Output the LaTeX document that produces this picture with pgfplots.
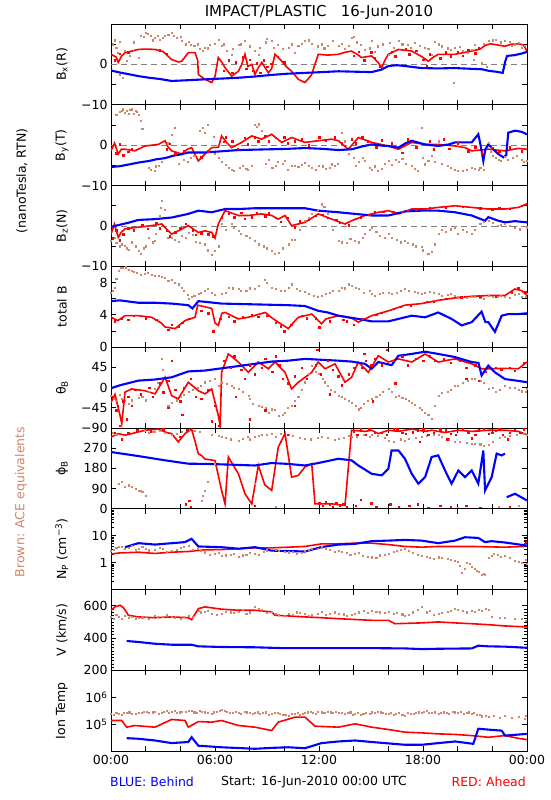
\documentclass[border=0pt]{standalone}
\usepackage{fontspec}
\setmainfont{DejaVu Sans}
\usepackage{pgfplots}
\pgfplotsset{compat=1.18}
\definecolor{bl}{RGB}{0,0,255}
\definecolor{rd}{RGB}{255,0,0}
\definecolor{br}{RGB}{205,135,105}
\definecolor{gr}{RGB}{128,128,128}
\newcommand\tk{\fontsize{12.5}{13}\selectfont}
\newcommand\lb{\fontsize{12.5}{13}\selectfont}
\pgfplotsset{
 panel/.style={width=416pt,height=80.8pt,scale only axis,
  xmin=0,xmax=24,xtick={0,2,...,24},xticklabels={},
  tick align=inside,major tick length=5pt,minor tick length=3pt,
  axis line style={line width=0.8pt},
  every tick/.style={black,line width=0.8pt},
  tick label style={font=\tk},
  xtick pos=both,ytick pos=both,
  xticklabel pos=lower,yticklabel pos=left,
  every axis y label/.style={at={(axis description cs:-0.118,0.5)},rotate=90,anchor=center,font=\lb},
  unbounded coords=jump,
  anchor=north west,
  /pgf/number format/assume math mode=true},
 bline/.style={color=bl,line width=2.1pt,no markers},
 rline/.style={color=rd,line width=1.6pt,no markers},
 bpts/.style={only marks,mark=square*,mark size=0.55pt,color=br},
 rpts/.style={only marks,mark=square*,mark size=0.7pt,color=rd},
 zline/.style={color=gr,line width=0.8pt,dash pattern=on 6pt off 4pt},
}
\begin{document}
\begin{tikzpicture}
\useasboundingbox (0,0) rectangle (550pt,-800pt);
% ---------- Bx
\begin{axis}[panel,at={(111pt,-24pt)},ymin=-10,ymax=10,ytick={-10,-5,0,5},yticklabels={−10,,0,},ylabel={B\textsubscript{x}(R)}]
\addplot[zline] coordinates {(0,0)(24,0)};
\addplot[bpts] coordinates {(0.1,5.0)(0.3,4.2)(0.5,5.6)(0.8,3.5)(1.1,2.2)(1.58,1.7)(1.9,6.8)(2.0,7.9)(2.3,7.0)(2.54,6.5)(2.8,6.2)(3.1,7.2)(3.5,7.9)(3.8,6.6)(4.1,5.8)(4.46,5.6)(4.8,4.6)(5.1,3.9)(5.42,4.1)(5.7,4.8)(6.0,5.2)(6.38,4.6)(6.7,3.5)(6.96,2.5)(7.35,4.9)(7.7,5.8)(8.31,3.3)(8.6,4.1)(9.27,5.8)(9.6,4.8)(10.23,4.1)(10.6,3.0)(11.19,5.8)(11.6,5.1)(12.15,5.0)(12.5,4.6)(13.12,4.6)(13.5,3.8)(13.88,6.5)(14.2,5.5)(14.65,3.7)(15.04,5.8)(15.4,4.5)(16.0,2.5)(16.3,4.1)(16.58,5.8)(17.1,4.8)(17.54,5.4)(18.1,4.2)(18.5,2.5)(18.88,5.0)(19.4,4.0)(19.75,-4.5)(19.85,4.1)(20.3,3.5)(20.81,3.7)(20.9,1.2)(21.2,4.2)(21.4,0.3)(21.7,-0.6)(21.77,5.8)(22.2,6.2)(22.73,5.8)(23.1,4.6)(23.5,5.4)(23.88,4.7)(0.5,-2.5)(0.7,-3.3)};
\addplot[bpts] coordinates {(0.2,6.0)(0.4,3.0)(0.9,1.0)(1.3,5.5)(1.7,7.2)(2.1,7.5)(2.4,6.0)(2.7,7.0)(3.0,6.5)(3.3,7.4)(3.6,7.0)(4.0,6.8)(4.3,5.0)(4.6,4.8)(5.0,5.0)(5.3,3.5)(5.6,4.0)(6.2,6.2)(6.5,5.0)(7.0,3.8)(7.5,5.0)(8.0,4.5)(8.5,2.5)(8.9,5.5)(9.0,6.3)(9.4,4.2)(9.9,3.8)(10.4,5.0)(10.8,4.6)(11.0,5.2)(11.4,6.0)(11.9,4.5)(12.3,4.0)(12.8,5.8)(13.3,5.2)(13.7,4.6)(14.0,6.8)(14.4,4.8)(14.9,4.0)(15.2,3.2)(15.7,5.0)(16.1,5.4)(16.8,5.0)(17.3,4.2)(17.8,4.6)(18.3,3.8)(18.7,5.6)(19.1,4.5)(19.6,3.6)(20.1,4.4)(20.6,3.0)(21.0,4.8)(21.5,5.2)(22.0,6.0)(22.5,5.5)(23.0,5.6)(23.3,5.0)(23.7,4.2)};
\addplot[rpts] coordinates {(6.5,-1.5)(6.8,1.0)(7.0,-2.0)(7.2,0.5)(7.6,1.8)(7.8,-1.0)(8.0,1.2)(8.2,-1.5)(8.4,0.3)(8.6,-2.0)(8.8,1.0)(9.0,-0.5)(9.2,0.2)(9.6,1.9)(10.0,0.5)(14.0,2.2)(14.3,3.2)(14.6,1.0)(15.0,3.0)(15.2,1.5)(15.5,-0.5)(16.2,3.2)(16.4,2.0)(17.0,3.8)(17.2,2.5)(17.6,3.4)(18.0,1.2)(18.2,-0.3)(18.4,2.5)(19.0,1.5)(19.3,3.0)(19.6,2.0)(20.0,3.2)(20.3,2.2)(20.6,3.6)(21.0,2.8)(21.2,4.0)(0.2,1.0)(0.5,2.6)(1.0,3.0)(2.8,3.5)(3.2,2.6)};
\addplot[rline] coordinates {(0,2.5)(0.3,1.8)(0.42,0.5)(0.6,2.0)(0.81,2.9)(1.2,3.3)(1.58,3.7)(2.0,3.8)(2.54,3.7)(3.0,3.2)(3.3,2.0)(3.5,1.2)(3.9,0.6)(4.08,0.8)(4.3,2.0)(4.46,2.9)(4.85,2.9)(5.0,1.0)(5.04,-2.5)(5.42,-3.7)(5.81,-4.5)(6.0,-3.0)(6.19,1.7)(6.4,0.5)(6.58,-0.8)(6.96,-2.9)(7.35,-1.7)(7.54,0.0)(7.73,2.5)(7.9,-0.5)(8.12,0.0)(8.3,-2.5)(8.5,-0.8)(8.7,0.5)(9.08,-2.1)(9.27,-1.0)(9.46,2.5)(9.7,1.5)(9.85,0.8)(10.1,-0.5)(10.42,-1.7)(10.81,-3.7)(11.19,-4.5)(11.58,-2.5)(11.8,0.5)(11.96,2.5)(12.5,2.3)(13.12,2.5)(13.5,3.0)(13.88,3.3)(14.2,2.5)(14.46,1.7)(15.04,2.1)(15.4,0.5)(15.62,-0.8)(15.8,1.0)(16.0,2.5)(16.58,3.7)(17.35,3.3)(17.9,2.0)(18.31,0.8)(18.6,1.8)(18.88,2.5)(19.85,2.5)(20.81,3.3)(21.3,3.8)(21.58,4.7)(21.9,5.1)(22.73,4.5)(23.1,5.0)(23.5,5.1)(23.8,4.8)(24,3.3)};
\addplot[bline] coordinates {(0,-1.5)(0.5,-2.0)(1.0,-2.4)(1.58,-2.9)(2.2,-3.3)(2.8,-3.6)(3.5,-4.1)(4.0,-4.0)(4.5,-3.9)(5.42,-3.7)(6.4,-3.5)(7.35,-3.3)(8.3,-3.0)(9.27,-2.6)(10.2,-2.3)(11.19,-2.1)(12.2,-1.9)(13.12,-1.7)(14.0,-1.8)(15.04,-1.9)(15.6,-1.3)(16.0,-0.4)(16.5,-0.2)(16.96,-0.4)(17.9,-0.9)(18.88,-1.0)(19.8,-0.9)(20.81,-1.1)(21.4,-1.2)(21.8,-1.6)(22.2,-1.8)(22.6,-2.1)(22.75,0.8)(22.85,2.1)(23.3,2.3)(23.7,2.7)(24,3.1)};
\end{axis}
% ---------- By
\begin{axis}[panel,at={(111pt,-104.8pt)},ymin=-10,ymax=10,ytick={-10,-5,0,5},yticklabels={−10,,0,},ylabel={B\textsubscript{y}(T)}]
\addplot[zline] coordinates {(0,0)(24,0)};
\addplot[bpts] coordinates {(0.3,7.6)(0.5,8.2)(0.7,8.9)(0.9,8.5)(1.0,7.8)(1.1,8.7)(1.2,8.9)(1.3,7.9)(1.5,8.2)(1.7,6.0)(1.8,4.0)(2.15,-5.6)(2.5,-6.3)(2.73,-5.0)(3.2,-1.0)(3.5,2.7)(3.7,4.4)(4.2,-3.5)(4.6,-3.0)(5.1,3.6)(5.3,4.4)(5.6,5.0)(5.9,2.0)(6.2,-3.0)(6.6,-4.8)(6.96,-6.0)(7.4,-5.6)(7.8,-5.8)(8.1,-5.0)(8.3,5.0)(8.5,5.2)(8.7,3.5)(9.1,-3.5)(9.3,-5.6)(9.6,-4.0)(10.0,-3.9)(10.4,-5.0)(10.8,-5.4)(11.19,-4.3)(11.6,-5.6)(11.96,-5.0)(12.4,-5.8)(12.73,-4.7)(13.1,-4.5)(13.3,3.0)(13.5,1.0)(14.0,-3.0)(14.3,-4.0)(14.65,-3.9)(15.04,-6.0)(15.4,-6.2)(15.8,-4.5)(16.0,-3.9)(16.4,-3.5)(16.8,-3.3)(17.35,-5.0)(17.7,-6.3)(17.9,4.4)(18.12,-4.7)(18.5,-2.5)(18.88,1.0)(19.4,-5.0)(19.85,-6.0)(20.3,-6.3)(20.81,-5.6)(21.2,-6.0)(21.5,-6.0)(21.77,0.6)(22.0,-2.5)(22.35,-3.5)(22.73,-2.8)(23.2,-3.0)(23.69,-3.5)(24,-3.8)};
\addplot[bpts] coordinates {(0.6,8.5)(0.8,8.0)(1.4,8.5)(1.6,7.5)(2.3,-6.0)(2.6,-5.2)(2.9,-4.0)(3.3,0.5)(3.9,-4.5)(4.4,-4.0)(4.8,-2.5)(5.4,3.0)(6.0,-2.0)(6.4,-4.0)(6.8,-5.5)(7.1,-6.2)(7.6,-5.0)(7.9,-6.0)(8.4,4.5)(8.9,-4.5)(9.5,-5.0)(9.9,-4.5)(10.2,-6.0)(10.6,-5.0)(11.0,-4.8)(11.4,-5.0)(11.8,-6.0)(12.2,-5.2)(12.6,-5.6)(12.9,-5.0)(13.7,-2.0)(14.1,-5.0)(14.5,-3.2)(14.9,-5.5)(15.2,-5.2)(15.6,-5.8)(16.2,-4.8)(16.6,-4.0)(17.0,-4.5)(17.5,-5.8)(18.0,-3.0)(18.3,-3.8)(18.7,-4.0)(19.1,-4.5)(19.6,-5.5)(20.0,-6.2)(20.5,-6.0)(21.0,-5.8)(21.3,-5.5)(21.9,-1.5)(22.2,-3.0)(22.5,-3.8)(22.9,-3.5)(23.4,-2.5)(23.8,-4.0)};
\addplot[rpts] coordinates {(0.3,-2.0)(0.5,0.2)(0.7,-2.5)(1.0,-1.6)(1.2,-0.8)(3.2,-1.0)(3.4,0.4)(3.7,-2.0)(4.2,-1.5)(5.2,-3.0)(5.6,-1.5)(6.5,0.8)(6.6,2.0)(7.0,1.0)(7.3,-0.8)(7.7,1.8)(7.9,0.2)(8.3,2.0)(8.5,1.0)(8.9,2.4)(9.1,1.0)(9.5,1.8)(10.0,2.0)(10.2,0.5)(10.6,1.0)(11.0,1.5)(11.4,0.0)(12.0,2.0)(12.4,1.2)(12.9,2.0)(13.3,0.5)(13.9,1.5)(14.1,0.5)(14.5,2.0)(14.8,1.0)(15.3,-0.5)(15.6,1.2)(16.2,0.5)(16.8,-1.8)(17.1,1.5)(17.6,-0.5)(18.4,1.0)(18.6,-1.0)(19.2,1.5)(19.5,-0.8)(20.0,0.5)(20.6,-1.5)(21.0,-0.5)(21.4,-2.0)(22.0,-0.6)(22.4,-1.5)(23.0,-0.5)(23.7,-1.5)};
\addplot[rline] coordinates {(0,-1.4)(0.2,0.5)(0.42,-2.2)(0.6,-1.0)(0.81,-1.0)(1.38,-1.4)(1.96,-0.2)(2.73,0.2)(3.12,1.1)(3.3,-0.5)(3.5,-1.4)(4.08,-2.2)(4.4,-1.0)(4.65,-0.6)(5.04,-3.9)(5.42,-2.2)(5.81,-0.6)(6.2,-0.5)(6.38,2.3)(6.7,0.5)(6.96,-0.6)(7.54,0.7)(8.12,2.3)(8.69,1.5)(9.27,2.7)(9.85,0.7)(10.42,1.9)(11.19,0.7)(11.96,1.1)(12.73,1.5)(13.12,1.1)(13.69,-1.0)(14.27,1.9)(15.04,0.7)(16.0,-0.2)(16.58,-1.0)(17.35,0.7)(18.12,0.2)(18.88,0.2)(19.85,-0.2)(20.42,-0.6)(20.81,-1.4)(21.77,-1.0)(22.73,-1.4)(23.5,-0.8)(24,-1.0)};
\addplot[bline] coordinates {(0,-5.4)(0.5,-5.2)(1.0,-4.8)(1.58,-4.3)(2.2,-3.9)(2.6,-3.5)(3.12,-3.2)(3.6,-2.6)(4.0,-2.3)(4.46,-1.8)(5.42,-1.8)(6.4,-1.5)(7.35,-1.2)(8.3,-1.1)(9.27,-1.0)(10.2,-0.9)(11.19,-0.7)(12.2,-0.9)(13.12,-1.2)(13.9,-1.0)(14.5,-0.3)(15.04,0.2)(15.6,-0.1)(16.0,-0.2)(16.58,-0.6)(17.0,0.5)(17.35,1.1)(18.1,0.2)(18.88,-0.2)(19.5,0.2)(19.85,0.7)(20.81,0.7)(21.19,2.7)(21.3,0.5)(21.48,-3.9)(21.6,-1.0)(21.77,0.2)(22.1,-1.2)(22.35,-2.2)(22.63,-3.0)(22.8,-2.5)(22.92,3.1)(23.31,3.6)(23.7,3.3)(24,2.7)};
\end{axis}
% ---------- Bz
\begin{axis}[panel,at={(111pt,-185.6pt)},ymin=-10,ymax=10,ytick={-10,-5,0,5},yticklabels={−10,,0,},ylabel={B\textsubscript{z}(N)}]
\addplot[zline] coordinates {(0,0)(24,0)};
\addplot[bpts] coordinates {(0,-3.6)(0.3,-4.2)(0.62,-4.5)(0.9,-5.5)(1.2,-4.0)(1.58,-6.1)(1.9,-5.5)(2.2,-3.0)(2.54,-3.6)(2.8,2.5)(2.92,6.3)(3.1,4.0)(3.5,-2.8)(3.9,-3.8)(4.46,-1.6)(4.9,-3.8)(5.42,-4.5)(5.81,-7.0)(6.2,-5.0)(6.38,0.5)(6.96,0.5)(7.35,-1.2)(7.8,-2.5)(8.31,-3.6)(8.8,-5.0)(9.27,-6.1)(9.65,-6.5)(10.23,-4.5)(10.6,-3.5)(11.19,1.3)(11.6,3.0)(12.15,5.4)(12.5,3.0)(13.12,-3.6)(13.6,-4.2)(14.08,-3.6)(14.65,-2.0)(15.04,-0.3)(15.5,-2.5)(16.0,-2.0)(16.5,-3.5)(16.96,-3.6)(17.4,-4.5)(17.92,-5.2)(18.3,-6.8)(18.88,-2.0)(19.3,-1.5)(19.85,-0.3)(20.3,-1.0)(20.81,-2.0)(21.3,0.5)(21.77,1.3)(22.3,0.0)(22.73,0.5)(23.3,-0.5)(24,-0.3)};
\addplot[bpts] coordinates {(0.2,-3.0)(0.5,-5.0)(0.8,-4.8)(1.0,-5.8)(1.4,-5.0)(1.7,-6.8)(2.0,-5.0)(2.4,-4.0)(2.6,-2.0)(2.85,4.5)(3.3,-3.0)(3.7,-3.5)(4.1,-2.5)(4.3,-3.0)(4.7,-2.2)(5.1,-4.2)(5.6,-6.0)(6.0,-6.2)(6.6,-1.0)(7.1,-0.5)(7.5,-2.0)(8.0,-3.0)(8.5,-4.5)(9.0,-5.5)(9.45,-6.8)(9.9,-5.5)(10.4,-3.5)(10.9,-1.0)(11.4,2.0)(11.9,4.0)(12.3,4.8)(12.8,-1.0)(13.3,-4.0)(13.8,-3.2)(14.3,-4.0)(14.5,-2.8)(14.9,-1.0)(15.3,-1.5)(15.8,-3.0)(16.2,-2.8)(16.7,-4.0)(17.1,-4.2)(17.6,-5.0)(18.0,-6.0)(18.5,-6.3)(18.7,-4.5)(19.1,-1.0)(19.6,-0.8)(20.0,-2.0)(20.5,-1.5)(21.0,-1.0)(21.5,1.0)(22.0,0.8)(22.5,0.3)(23.0,0.0)(23.6,-0.8)};
\addplot[rpts] coordinates {(0.1,-3.0)(0.3,-1.0)(0.5,-3.5)(0.7,-2.0)(1.0,-0.5)(1.3,-1.0)(1.8,0.2)(2.1,-0.6)(2.6,0.8)(2.8,-0.5)(3.2,-1.0)(3.4,-2.5)(3.7,-1.5)(4.0,-0.5)(4.3,0.5)(4.7,-1.0)(4.9,-2.2)(5.2,-1.8)(5.6,-2.0)(5.9,-2.5)(6.4,2.0)(6.8,3.0)(7.1,2.2)(7.5,3.3)(7.7,1.8)(8.1,2.2)(8.4,3.3)(8.9,2.4)(9.1,3.2)(9.5,2.0)(9.8,1.0)(10.2,2.0)(10.6,-0.3)(10.9,1.2)(11.4,1.5)(11.8,2.5)(12.2,2.8)(12.5,2.0)(13.0,1.5)(13.2,0.8)(13.7,0.2)(14.1,1.8)(14.4,2.2)(14.9,2.8)(15.2,3.6)(15.7,3.5)(16.3,3.4)(16.8,3.6)(17.1,3.8)(17.6,4.0)(18.4,4.4)(19.3,4.6)(20.3,4.8)(21.3,4.4)(22.0,4.0)(22.4,4.5)(23.0,4.3)(23.7,5.0)};
\addplot[rline] coordinates {(0,-2.0)(0.2,0.5)(0.42,-2.8)(0.6,-1.5)(0.81,-0.7)(1.58,-0.3)(2.35,0.1)(2.92,0.5)(3.5,-2.0)(3.88,-1.2)(4.46,0.1)(5.04,-1.6)(5.42,-1.2)(5.81,-1.6)(6.0,-3.0)(6.19,0.5)(6.58,3.8)(7.35,2.6)(7.92,2.6)(8.69,3.0)(9.27,2.6)(9.65,1.7)(10.04,2.6)(10.42,0.1)(11.19,0.9)(11.96,3.0)(12.73,1.7)(13.5,0.5)(13.88,1.3)(14.65,2.6)(15.42,3.4)(16.0,3.8)(16.58,3.0)(17.35,4.2)(18.12,4.2)(18.88,4.6)(19.85,5.0)(20.81,4.6)(21.77,4.2)(22.73,4.2)(23.5,4.6)(24,5.5)};
\addplot[bline] coordinates {(0,-0.2)(0.5,0.3)(1.0,0.8)(1.58,1.5)(2.54,1.7)(3.5,2.1)(4.46,3.0)(5.04,3.8)(5.81,3.4)(6.58,4.2)(7.35,4.2)(8.31,4.4)(9.27,4.4)(10.42,4.4)(11.19,4.4)(11.96,3.8)(13.12,3.4)(14.08,3.0)(15.04,2.6)(16.0,2.6)(16.96,3.6)(17.92,3.8)(18.88,3.8)(19.85,3.4)(20.81,2.6)(21.58,1.3)(21.77,2.2)(22.35,1.3)(22.73,0.9)(23.3,1.2)(24,0.9)};
\end{axis}
% ---------- total B
\begin{axis}[panel,at={(111pt,-266.4pt)},ymin=0,ymax=10,ytick={0,2,4,6,8},yticklabels={0,,4,,8},ylabel={total B}]
\addplot[bpts] coordinates {(0,6.8)(0.2,7.4)(0.42,9.5)(0.7,9.8)(1.0,9.6)(1.19,9.5)(1.5,9.2)(1.96,9.1)(2.35,9.0)(2.73,8.9)(3.1,8.6)(3.5,8.3)(3.9,7.8)(4.08,7.4)(4.4,6.5)(4.65,6.2)(5.04,6.6)(5.42,7.0)(5.8,6.8)(6.38,6.6)(6.8,7.4)(7.35,7.2)(7.8,7.0)(8.31,7.2)(8.88,8.3)(9.27,7.4)(9.8,7.0)(10.23,7.4)(10.7,7.2)(11.19,6.9)(11.7,6.4)(12.15,6.4)(12.6,6.8)(13.12,7.0)(13.5,7.3)(13.88,7.6)(14.27,7.2)(15.04,6.6)(15.5,6.6)(16.0,6.8)(16.5,6.8)(16.96,7.2)(17.5,6.9)(17.92,6.6)(18.4,6.9)(18.88,6.6)(19.4,6.5)(19.85,6.4)(20.3,6.3)(20.81,6.2)(21.3,6.1)(21.77,6.4)(22.3,6.3)(22.73,6.2)(23.3,6.5)(23.7,6.2)(24,6.6)};
\addplot[bpts] coordinates {(0.1,7.0)(0.3,8.5)(0.55,9.8)(0.85,9.9)(1.3,9.3)(1.7,9.0)(2.1,9.2)(2.5,8.8)(2.9,8.7)(3.3,8.2)(3.7,8.0)(4.2,7.0)(4.5,6.0)(4.8,6.4)(5.2,6.8)(5.6,7.2)(6.0,6.5)(6.6,6.8)(7.0,7.3)(7.5,7.0)(8.0,7.3)(8.5,7.6)(9.0,8.0)(9.5,7.2)(10.0,7.0)(10.4,7.8)(10.9,7.0)(11.4,6.6)(11.9,6.2)(12.4,6.6)(12.8,7.0)(13.3,7.4)(13.7,7.8)(14.1,7.4)(14.6,6.8)(14.9,7.0)(15.2,6.4)(15.7,6.8)(16.2,6.6)(16.7,7.0)(17.2,7.0)(17.7,6.7)(18.1,6.8)(18.6,6.7)(19.1,6.4)(19.6,6.6)(20.0,6.3)(20.5,6.1)(21.0,6.3)(21.5,6.0)(22.0,6.2)(22.5,6.4)(23.0,6.1)(23.5,6.6)(23.9,6.3)};
\addplot[rpts] coordinates {(0.2,3.2)(0.6,3.6)(1.0,3.4)(1.3,3.9)(2.0,3.6)(2.6,3.4)(3.3,2.2)(3.5,2.8)(3.9,2.6)(4.1,3.0)(4.5,3.5)(5.2,4.5)(5.6,4.2)(5.9,2.0)(6.3,3.5)(6.8,3.8)(7.1,3.2)(7.6,3.8)(8.1,4.0)(8.5,3.8)(9.0,3.9)(9.5,3.0)(9.8,2.6)(10.0,2.0)(10.4,2.8)(11.0,3.9)(11.3,3.6)(11.8,3.6)(12.0,2.5)(12.6,3.2)(13.4,3.4)(13.6,3.2)(14.0,2.8)(14.5,3.5)(15.3,4.0)(15.6,4.3)(16.3,4.8)(16.7,5.0)(17.3,5.2)(18.2,5.6)(18.6,5.6)(19.3,6.0)(20.2,6.2)(21.3,6.3)(22.2,6.3)(23.1,6.8)(23.5,7.3)(23.9,6.8)};
\addplot[rline] coordinates {(0,3.7)(0.4,3.3)(0.81,3.9)(1.58,3.9)(2.35,3.7)(2.9,3.0)(3.12,2.5)(3.7,2.3)(4.27,3.3)(4.85,3.7)(5.0,5.2)(5.42,5.0)(5.81,4.8)(6.0,3.0)(6.19,2.7)(6.4,4.2)(6.58,4.3)(7.35,3.5)(7.92,3.7)(8.9,4.3)(9.3,3.6)(9.65,3.1)(10.23,2.3)(10.5,3.0)(10.81,3.7)(11.58,4.1)(12.15,2.9)(12.4,3.5)(13.12,3.9)(13.88,3.6)(14.27,3.1)(15.04,3.9)(16.0,4.5)(16.96,5.2)(17.92,5.4)(18.88,5.8)(19.85,6.1)(20.81,6.3)(21.77,6.4)(22.73,6.4)(23.3,7.2)(23.7,7.0)(24,6.4)};
\addplot[bline] coordinates {(0,5.7)(0.5,5.8)(1.58,5.5)(2.54,5.5)(3.5,5.4)(4.46,5.2)(4.7,4.8)(5.04,5.7)(5.5,5.6)(6.38,5.4)(8.31,5.3)(10.23,5.2)(11.19,5.1)(11.96,4.5)(12.5,4.3)(13.12,3.9)(14.27,3.5)(15.04,3.2)(16.0,3.2)(16.58,3.5)(17.35,3.9)(18.12,3.7)(18.88,4.3)(19.65,3.5)(20.23,2.7)(20.81,3.1)(21.38,4.4)(21.6,3.1)(21.77,3.1)(22.15,1.9)(22.54,3.9)(22.92,4.1)(23.5,4.1)(24,4.2)};
\end{axis}
% ---------- theta
\begin{axis}[panel,at={(111pt,-347.2pt)},ymin=-90,ymax=90,ytick={-90,-45,0,45},yticklabels={−90,−45,0,45},ylabel={θ\textsubscript{B}}]
\addplot[bpts] coordinates {(0,-18)(0.3,-30)(0.62,-25)(1.0,-35)(1.58,-22)(2.0,-28)(2.54,-3)(2.92,64)(3.0,40)(3.5,-33)(4.0,-20)(4.46,-10)(5.0,0)(5.42,12)(6.0,20)(6.38,12)(6.96,4)(7.35,-3)(7.92,-18)(8.0,-25)(8.5,-40)(8.9,-45)(9.27,-48)(9.65,-62)(10.0,-55)(10.42,-40)(10.8,-20)(11.19,12)(11.58,49)(12.0,30)(12.35,12)(12.7,-5)(13.12,-18)(13.5,-25)(13.88,-33)(14.27,-48)(14.6,-35)(15.04,-25)(15.5,-15)(16.0,-3)(16.58,-18)(17.0,-25)(17.35,-33)(17.8,-45)(18.12,-55)(18.5,-70)(18.88,-18)(19.4,-10)(19.85,4)(20.3,10)(20.81,19)(21.3,15)(21.77,-3)(22.2,-10)(22.73,4)(23.3,0)(23.7,-8)(24,-3)};
\addplot[bpts] coordinates {(0.15,-25)(0.5,-15)(0.8,-30)(1.2,-28)(1.8,-20)(2.2,-10)(2.7,10)(3.3,-40)(3.8,-28)(4.2,-15)(4.7,-5)(5.2,5)(5.7,15)(6.2,5)(6.7,8)(7.1,0)(7.6,-10)(8.2,-35)(8.7,-42)(9.1,-55)(9.45,-50)(9.9,-60)(10.2,-45)(10.6,-30)(11.0,-5)(11.4,30)(11.8,35)(12.2,20)(12.5,5)(12.9,-10)(13.3,-20)(13.7,-30)(14.1,-40)(14.4,-45)(14.8,-30)(15.3,-20)(15.7,-10)(16.2,-10)(16.4,-20)(16.8,-22)(17.2,-30)(17.5,-38)(17.9,-50)(18.3,-60)(18.7,-40)(19.1,-12)(19.6,-5)(20.0,5)(20.6,15)(21.0,20)(21.5,10)(22.0,0)(22.4,-5)(23.0,0)(23.5,-5)(23.9,-10)};
\addplot[rpts] coordinates {(0.3,-50)(0.5,-85)(0.9,-70)(1.2,-40)(3.3,-45)(3.5,60)(4.1,-60)(5.8,-75)(6.2,-85)(7.2,-20)(8.0,-70)(8.9,-50)(9.5,70)(10.6,-40)(11.9,85)(12.6,-15)(14.6,75)(15.1,-30)(15.9,85)(16.4,10)(20.5,20)(21.2,15)(0.1,-20)(0.4,-40)(0.7,-30)(1.0,-20)(1.4,-5)(1.7,-15)(2.2,0)(2.4,-20)(2.8,10)(3.0,-10)(3.3,15)(3.7,-5)(4.0,-30)(4.2,0)(4.6,20)(4.9,-20)(5.2,-25)(5.6,-5)(6.0,-40)(6.5,60)(6.9,45)(7.1,70)(7.5,40)(7.7,20)(8.0,50)(8.3,30)(8.7,45)(8.9,65)(9.3,35)(9.7,50)(9.9,20)(10.2,10)(10.6,25)(11.0,45)(11.3,20)(11.8,50)(12.1,30)(12.5,60)(12.8,40)(13.1,25)(13.3,5)(13.7,30)(14.0,45)(14.5,45)(14.7,60)(15.0,50)(15.2,65)(15.6,50)(16.3,60)(16.8,70)(17.1,50)(17.6,65)(18.0,60)(18.4,70)(18.7,60)(19.2,65)(19.6,55)(20.1,60)(20.5,45)(21.0,50)(21.6,35)(22.2,45)(22.5,40)(23.0,45)(23.3,38)(23.8,55)};
\addplot[rline] coordinates {(0,-33)(0.23,-15)(0.52,-62)(0.62,-80)(0.81,-10)(1.19,-3)(1.96,-7)(2.54,-14)(3.12,23)(3.5,-18)(3.88,-25)(4.46,12)(5.04,-7)(5.42,-14)(5.81,-3)(6.19,-62)(6.3,-85)(6.38,34)(6.77,75)(7.35,57)(7.92,34)(8.5,57)(9.08,42)(9.46,57)(10.04,34)(10.42,-3)(10.81,12)(11.58,34)(11.96,57)(12.35,42)(12.92,53)(13.5,12)(13.88,23)(14.27,57)(14.85,34)(15.42,71)(16.0,57)(16.58,64)(17.35,57)(18.12,75)(18.88,57)(19.85,64)(20.81,53)(21.38,42)(21.96,42)(22.73,43)(23.5,42)(24,57)};
\addplot[bline] coordinates {(0,-1.5)(0.5,5)(1.58,15.6)(2.54,18)(3.5,23)(4.46,36)(5.42,38)(6.38,43)(7.35,48)(8.31,53)(9.27,58)(10.23,60)(11.19,64)(12.15,62)(13.12,60)(13.88,58)(14.65,53)(15.04,42)(15.42,57)(16.19,50)(16.58,71)(17.35,75)(18.12,80)(18.88,75)(19.85,68)(20.81,57)(21.2,55)(21.38,27)(21.77,49)(22.15,34)(22.73,19)(23.31,16)(24,12)};
\end{axis}
% ---------- phi
\begin{axis}[panel,at={(111pt,-428pt)},ymin=0,ymax=360,ytick={0,90,180,270},yticklabels={0,90,180,270},ylabel={ϕ\textsubscript{B}}]
\addplot[bpts] coordinates {(0.1,340)(0.3,330)(1.96,350)(2.2,340)(2.54,345)(3.5,330)(4.46,350)(5.8,330)(6.38,320)(7.35,305)(8.3,320)(8.69,330)(9.27,335)(10.23,330)(11.19,312)(12.15,320)(13.12,312)(13.88,320)(15.04,330)(16.0,305)(16.96,305)(17.92,320)(18.88,330)(19.85,300)(20.81,290)(21.77,285)(22.73,320)(24,330)(0.42,112)(0.8,100)(1.19,97)(1.58,82)(1.8,75)(2.0,60)(5.23,37)(5.42,82)(5.6,120)(6.0,200)(8.31,112)(9.5,10)(20.0,5)(22.35,10)(23.5,15)};
\addplot[bpts] coordinates {(0.2,335)(0.6,120)(1.0,105)(1.4,90)(1.7,80)(2.4,345)(2.8,350)(3.1,340)(3.8,335)(4.1,345)(4.8,350)(5.1,345)(5.3,60)(6.2,325)(6.6,315)(6.9,310)(7.6,312)(7.9,320)(8.0,310)(8.5,325)(9.0,330)(9.5,320)(9.8,335)(10.5,325)(10.9,318)(11.5,310)(11.9,315)(12.5,318)(12.9,308)(13.4,315)(13.7,325)(14.2,322)(14.6,330)(14.9,320)(15.4,325)(15.8,315)(16.3,300)(16.7,310)(17.2,312)(17.6,318)(18.2,325)(18.6,330)(19.1,320)(19.5,310)(20.1,298)(20.5,295)(21.0,292)(21.3,288)(21.5,280)(22.0,300)(22.4,315)(23.0,325)(23.4,330)(23.8,335)};
\addplot[rpts] coordinates {(12.0,25)(12.2,15)(12.4,30)(12.6,20)(12.8,10)(13.0,25)(13.2,15)(13.4,20)(13.6,10)(14.1,15)(14.4,40)(15.0,25)(15.3,10)(16.1,20)(16.6,10)(17.2,15)(17.7,20)(18.3,5)(19.0,15)(19.6,10)(20.5,15)(21.3,5)(23.0,10)(4.3,20)(4.5,35)(4.6,10)(8.1,30)(8.3,15)(14.2,330)(14.9,355)(15.6,340)(16.3,355)(17.0,335)(17.7,350)(18.3,330)(19.0,355)(19.6,335)(20.3,355)(21.0,330)(21.5,355)(22.0,338)(22.4,355)(23.0,340)(23.8,355)(0.2,340)(0.6,310)(1.0,340)(1.5,350)(2.3,345)(3.0,355)(4.0,320)(4.4,350)(10.2,330)(9.8,300)(14.0,345)(14.4,355)(14.7,330)(15.2,340)(15.9,330)(16.5,355)(16.8,338)(17.4,342)(18.0,355)(18.6,338)(19.3,350)(19.9,330)(20.6,340)(21.2,350)(21.8,335)(22.2,348)(22.6,330)(23.3,350)(23.6,338)(17.8,300)(19.4,310)(20.8,315)(22.9,310)};
\addplot[rline] coordinates {(0,320)(0.42,335)(0.81,328)(1.19,335)(1.96,350)(2.73,355)(3.2,340)(3.5,335)(3.88,298)(4.27,335)(4.65,355)(4.85,300)(5.04,245)(5.23,237)(5.42,222)(6.0,215)(6.38,82)(6.58,22)(6.77,231)(7.35,156)(7.73,67)(8.12,22)(8.5,193)(8.88,106)(9.27,82)(9.65,275)(10.04,335)(10.42,141)(10.81,149)(11.19,186)(11.58,201)(11.77,22)(12.0,22)(12.73,22)(13.5,15)(13.88,350)(14.65,345)(15.04,350)(15.42,335)(16.0,350)(16.58,345)(17.35,355)(18.12,345)(18.5,350)(19.27,340)(20.04,350)(20.81,345)(21.77,350)(22.73,350)(23.5,345)(24,330)};
\addplot[bline] coordinates {(0,253)(1.58,235)(3.12,216)(4.46,201)(5.5,200)(6.38,198)(8.31,193)(9.27,204)(10.23,200)(11.19,193)(11.96,204)(13.12,223)(13.88,216)(14.27,193)(15.04,156)(15.62,149)(16.0,178)(16.19,260)(16.58,260)(16.96,223)(17.35,156)(17.73,112)(18.12,141)(18.5,231)(18.88,238)(19.27,171)(19.65,112)(20.04,171)(20.42,141)(20.81,171)(21.19,112)(21.48,260)(21.58,82)(21.96,141)(22.25,246)(22.54,238)(22.73,246)(22.78,nan)(22.83,52)(23.31,67)(24,37)};
\end{axis}
% ---------- Np
\begin{axis}[panel,at={(111pt,-508.8pt)},ymode=log,ymin=0.1,ymax=100,ytick={0.1,1,10,100},yticklabels={,1,10,},ylabel={N\textsubscript{P} (cm\textsuperscript{−3})}]
\addplot[bpts] coordinates {(0,2.8)(0.3,3.5)(0.62,4.0)(1.0,3.6)(1.58,3.3)(2.0,3.4)(2.54,3.0)(3.0,3.2)(3.5,2.8)(4.0,3.5)(4.46,4.3)(5.0,3.2)(5.42,2.45)(6.0,2.2)(6.38,1.84)(6.9,2.0)(7.35,1.7)(7.8,2.0)(8.31,2.1)(8.8,2.5)(9.27,3.3)(9.7,2.8)(10.23,2.45)(10.7,2.2)(11.19,2.8)(11.6,3.2)(12.15,3.76)(12.6,3.0)(13.12,2.8)(13.6,2.4)(14.08,2.1)(14.5,1.8)(15.04,1.6)(15.5,1.9)(16.0,2.1)(16.5,2.8)(16.96,3.3)(17.4,2.4)(17.92,1.84)(18.4,1.5)(18.88,1.6)(19.4,1.4)(19.85,1.2)(20.1,0.8)(20.23,0.44)(20.5,1.0)(20.81,0.69)(21.1,0.5)(21.38,0.35)(21.58,0.35)(21.96,1.84)(22.3,2.0)(22.73,1.84)(23.31,1.2)(23.7,1.0)(24,0.9)};
\addplot[bpts] coordinates {(0.15,3.0)(0.45,3.8)(0.8,3.2)(1.2,4.2)(1.4,3.0)(1.8,3.8)(2.2,2.9)(2.8,3.6)(3.2,2.6)(3.8,3.0)(4.2,3.9)(4.7,3.0)(5.2,2.8)(5.7,2.0)(6.2,2.4)(6.6,1.9)(7.1,2.2)(7.6,1.9)(8.0,2.3)(8.5,2.0)(9.0,2.9)(9.5,3.0)(10.0,2.6)(10.5,2.6)(11.0,2.4)(11.4,3.0)(11.9,3.4)(12.4,3.3)(12.9,2.6)(13.3,2.5)(13.8,2.0)(14.3,2.3)(14.8,1.7)(15.3,1.5)(15.8,2.0)(16.3,2.5)(16.7,3.0)(17.2,2.8)(17.7,2.0)(18.2,1.7)(18.6,1.4)(19.1,1.5)(19.6,1.3)(20.0,1.1)(20.4,0.6)(20.7,0.9)(21.0,0.6)(21.2,0.45)(21.5,0.4)(21.8,1.5)(22.1,2.2)(22.5,1.7)(23.0,1.5)(23.5,1.1)(23.9,1.3)};
\addplot[rline] coordinates {(0,2.1)(0.5,2.3)(1.58,2.45)(2.54,2.2)(3.5,2.45)(4.46,2.6)(5.42,3.0)(6.38,3.06)(7.35,3.3)(8.31,3.55)(9.27,3.55)(10.23,3.76)(11.19,4.0)(12.15,5.0)(13.12,5.0)(14.08,5.3)(15.04,5.3)(16.0,4.7)(16.96,4.0)(17.92,3.76)(18.88,4.0)(20.81,4.0)(22.73,3.76)(23.8,4.0)(24,6.5)};
\addplot[bline] coordinates {(0.81,3.76)(1.58,5.3)(2.54,4.7)(4.27,5.8)(4.65,7.7)(5.04,4.0)(6.38,3.76)(7.35,3.3)(8.31,3.76)(9.27,2.8)(10.23,2.7)(11.19,2.6)(12.15,3.8)(13.12,4.7)(14.08,5.0)(15.04,6.3)(16.0,6.6)(16.96,7.0)(17.92,6.6)(18.88,5.3)(19.85,6.6)(20.42,8.8)(21.19,8.3)(21.58,5.8)(21.96,6.3)(22.73,5.6)(24,4.3)};
\end{axis}
% ---------- V
\begin{axis}[panel,at={(111pt,-589.6pt)},ymin=200,ymax=700,ytick={200,400,600},yticklabels={200,400,600},minor y tick num=9,ylabel={V (km/s)}]
\addplot[bpts] coordinates {(0,530)(0.3,545)(0.62,520)(1.0,525)(1.58,526)(2.0,535)(2.54,541)(3.0,530)(3.5,531)(4.0,520)(4.46,541)(5.04,572)(5.42,562)(5.8,550)(6.38,551)(6.9,560)(7.35,562)(7.8,550)(8.31,593)(8.7,575)(9.27,562)(9.7,545)(10.23,551)(10.7,560)(11.19,551)(11.6,545)(12.15,562)(12.6,550)(13.12,551)(13.6,540)(14.08,551)(14.6,570)(15.04,572)(15.5,560)(16.0,562)(16.5,555)(16.96,541)(17.4,560)(17.92,593)(18.4,570)(18.88,551)(19.4,565)(19.85,582)(20.3,570)(20.81,572)(21.2,575)(21.6,582)(21.96,531)(22.4,525)(22.73,526)(23.3,520)(23.69,520)(23.9,505)};
\addplot[bpts] coordinates {(0.15,520)(0.45,535)(0.8,540)(1.2,530)(1.4,520)(1.8,528)(2.2,520)(2.7,530)(3.2,545)(3.7,525)(4.2,535)(4.7,530)(5.2,560)(5.6,570)(6.1,545)(6.6,565)(7.1,555)(7.6,575)(8.0,560)(8.5,580)(9.0,555)(9.5,550)(10.0,540)(10.5,545)(10.9,555)(11.4,540)(11.9,550)(12.4,545)(12.9,560)(13.4,548)(13.9,545)(14.3,560)(14.8,555)(15.3,565)(15.8,555)(16.3,550)(16.8,548)(17.2,545)(17.7,575)(18.2,560)(18.6,545)(19.1,555)(19.6,570)(20.0,575)(20.5,560)(21.0,565)(21.4,570)(21.8,578)};
\addplot[rline] coordinates {(0,572)(0.23,593)(0.52,603)(0.7,590)(0.9,560)(1.0,541)(1.58,531)(2.54,526)(3.5,531)(4.46,526)(4.65,514)(5.04,582)(5.42,593)(6.38,579)(7.35,572)(8.31,572)(9.27,562)(9.46,541)(10.23,537)(11.19,531)(12.15,526)(13.12,520)(14.08,515)(15.04,510)(16.0,510)(16.38,489)(17.92,494)(18.88,500)(19.85,494)(20.81,489)(21.77,483)(22.73,475)(24,469)};
\addplot[bline] coordinates {(0.9,382)(1.58,376)(2.54,365)(3.5,359)(4.65,359)(5.04,349)(6.38,345)(8.31,343)(9.85,338)(11.19,338)(13.12,338)(15.04,338)(16.96,336)(17.92,332)(18.88,334)(20.81,336)(21.19,353)(21.77,349)(22.73,347)(24,340)};
\end{axis}
% ---------- Ion Temp
\begin{axis}[panel,at={(111pt,-670.4pt)},ymode=log,ymin=1e4,ymax=1e7,ytick={1e5,1e6},yticklabels={10\textsuperscript{5},10\textsuperscript{6}},yminorticks=false,ylabel={Ion Temp},
 xticklabels={00:00,,,06:00,,,12:00,,,18:00,,,00:00}]
\addplot[bpts] coordinates {(0,2.45e5)(0.3,2.6e5)(0.62,2.3e5)(0.9,2.7e5)(1.2,2.5e5)(1.58,2.65e5)(1.9,2.9e5)(2.2,2.6e5)(2.54,2.97e5)(2.9,2.7e5)(3.2,3.1e5)(3.5,2.97e5)(3.8,2.6e5)(4.1,3.0e5)(4.46,3.15e5)(4.8,2.8e5)(5.1,3.2e5)(5.42,2.8e5)(5.8,2.5e5)(6.1,3.0e5)(6.38,3.35e5)(6.7,2.9e5)(7.0,2.7e5)(7.35,2.65e5)(7.7,3.0e5)(8.0,2.6e5)(8.31,2.65e5)(8.6,2.4e5)(8.9,2.8e5)(9.27,2.45e5)(9.6,2.6e5)(9.9,2.2e5)(10.23,2.14e5)(10.6,2.5e5)(10.9,2.3e5)(11.19,2.65e5)(11.5,2.9e5)(11.8,2.5e5)(12.15,2.8e5)(12.5,3.0e5)(12.8,2.6e5)(13.12,2.65e5)(13.5,2.4e5)(13.8,2.8e5)(14.08,2.45e5)(14.4,2.2e5)(14.7,2.6e5)(15.04,2.8e5)(15.4,3.0e5)(15.7,2.6e5)(16.0,2.45e5)(16.3,2.2e5)(16.6,2.6e5)(16.96,2.14e5)(17.3,2.4e5)(17.6,2.7e5)(17.92,2.65e5)(18.2,3.1e5)(18.5,2.6e5)(18.88,2.45e5)(19.2,2.8e5)(19.5,2.5e5)(19.85,2.8e5)(20.2,3.0e5)(20.5,2.6e5)(20.81,2.45e5)(21.1,2.3e5)(21.4,2.0e5)(21.77,1.84e5)(22.1,2.1e5)(22.4,1.8e5)(22.73,2.14e5)(23.1,1.7e5)(23.5,1.9e5)(23.88,1.6e5)(23.95,2.1e5)};
\addplot[bpts] coordinates {(0.15,2.3e5)(0.45,2.5e5)(0.75,2.6e5)(1.05,2.8e5)(1.4,2.4e5)(1.75,2.7e5)(2.05,3.0e5)(2.4,2.8e5)(2.75,2.5e5)(3.05,2.9e5)(3.35,2.7e5)(3.65,3.2e5)(3.95,2.8e5)(4.3,2.9e5)(4.65,3.3e5)(4.95,2.6e5)(5.25,3.0e5)(5.6,2.6e5)(5.95,2.8e5)(6.25,3.2e5)(6.55,3.1e5)(6.85,2.6e5)(7.2,2.9e5)(7.5,2.5e5)(7.85,2.8e5)(8.15,2.5e5)(8.45,2.8e5)(8.75,2.6e5)(9.1,2.3e5)(9.45,2.7e5)(9.75,2.4e5)(10.05,2.3e5)(10.4,2.4e5)(10.75,2.6e5)(11.05,2.5e5)(11.35,2.8e5)(11.65,2.7e5)(11.95,2.9e5)(12.3,2.6e5)(12.65,2.8e5)(12.95,2.9e5)(13.3,2.6e5)(13.65,2.6e5)(13.95,2.3e5)(14.25,2.6e5)(14.55,2.4e5)(14.9,2.5e5)(15.2,2.7e5)(15.55,2.8e5)(15.85,2.4e5)(16.15,2.6e5)(16.45,2.4e5)(16.8,2.3e5)(17.1,2.6e5)(17.45,2.5e5)(17.75,2.8e5)(18.05,2.9e5)(18.35,2.7e5)(18.7,2.8e5)(19.0,2.6e5)(19.35,2.6e5)(19.7,3.0e5)(20.0,2.7e5)(20.35,2.5e5)(20.65,2.8e5)(20.95,2.6e5)(21.25,2.2e5)(21.6,2.1e5)};
\addplot[rline] coordinates {(0,1.38e5)(0.62,1.38e5)(0.9,7.8e4)(1.38,9.0e4)(2.54,7.8e4)(3.5,1.51e5)(4.27,1.38e5)(4.46,7.8e4)(5.04,1.26e5)(5.81,1.2e5)(6.38,1.38e5)(7.35,9.0e4)(8.31,7.8e4)(9.27,5.85e4)(9.65,1.2e5)(10.62,1.84e5)(11.19,1.84e5)(11.77,8.5e4)(13.12,7.8e4)(14.08,1.04e5)(15.04,7.8e4)(16.0,6.4e4)(16.96,5.1e4)(17.92,4.8e4)(18.88,4.4e4)(19.85,4.2e4)(20.81,3.8e4)(21.77,3.3e4)(22.73,3.8e4)(23.5,3.0e4)(24,2.7e4)};
\addplot[bline] coordinates {(0.9,3.05e4)(1.58,2.9e4)(2.54,2.5e4)(3.5,2.0e4)(4.46,2.2e4)(4.65,3.3e4)(5.04,1.6e4)(6.38,1.4e4)(8.31,1.23e4)(9.27,1.33e4)(10.23,1.4e4)(11.19,1.29e4)(12.15,2.0e4)(13.12,2.3e4)(14.08,2.5e4)(15.04,2.2e4)(16.96,1.73e4)(17.92,1.73e4)(18.88,2.0e4)(19.85,2.3e4)(20.9,1.88e4)(21.19,6.8e4)(22.54,5.8e4)(22.73,3.8e4)(24,4.4e4)};
\end{axis}
% ---------- texts
\node[font=\fontsize{15}{16}\selectfont] at (319pt,-12pt) {IMPACT/PLASTIC\ \ \ 16-Jun-2010};
\node[font=\lb,rotate=90] at (22pt,-181pt) {(nanoTesla, RTN)};
\node[font=\lb,rotate=90,text=br] at (21pt,-502pt) {Brown: ACE equivalents};
\node[font=\lb,text=bl,anchor=west,inner sep=0pt] at (110pt,-782pt) {BLUE: Behind};
\node[font=\lb,anchor=center,inner sep=0pt] at (314pt,-782pt) {Start: 16-Jun-2010 00:00 UTC};
\node[font=\lb,text=rd,anchor=east,inner sep=0pt] at (526pt,-782pt) {RED: Ahead};
\end{tikzpicture}
\end{document}
